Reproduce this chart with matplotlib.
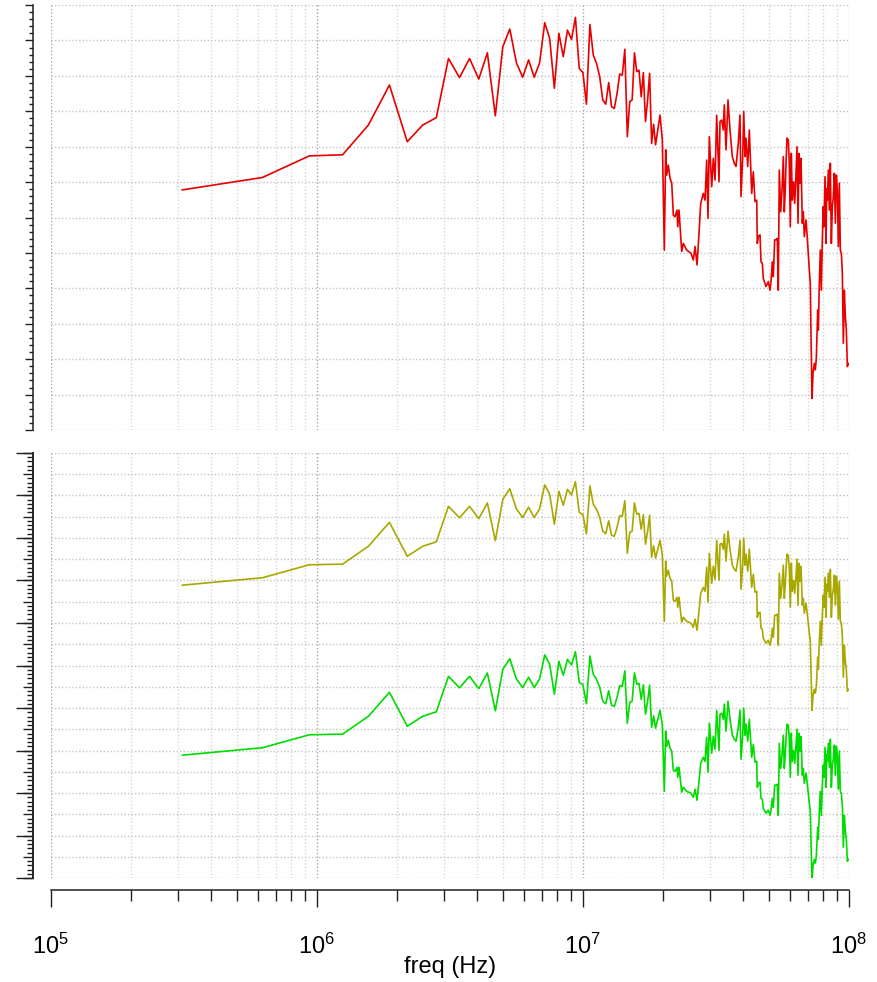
# -*- coding: utf-8 -*-
# spectrum: one trace on top, two traces below, shared log freq axis
import numpy as np
import matplotlib
matplotlib.use('Agg')
import matplotlib.pyplot as plt
from matplotlib.ticker import MultipleLocator, LogLocator, NullFormatter

plt.rcParams['font.family'] = ['Liberation Sans', 'DejaVu Sans']
plt.rcParams['mathtext.fontset'] = 'custom'
plt.rcParams['mathtext.rm'] = 'Liberation Sans'
plt.rcParams['mathtext.it'] = 'Liberation Sans:italic'

############################# DATA #############################
# low band: FFT bins, 0.3125 MHz apart
bin_step_mhz = 0.3125
bin_freq_mhz = np.arange(1, 61) * bin_step_mhz

# upper band, frequencies (MHz)
hf_freq_mhz = [
    19.49, 19.88, 20.23, 20.47, 20.65, 20.94, 21.25, 21.57, 21.87, 22.19,
    22.58, 22.72, 22.97, 23.51, 23.84, 24.55, 25.48, 26.00, 26.39, 26.85,
    27.24, 27.72, 28.35, 28.77, 29.19, 29.52, 29.86, 30.48, 30.91, 31.37,
    31.83, 32.47, 32.75, 33.24, 33.70, 34.00, 34.50, 35.10, 35.71, 36.43,
    37.07, 37.62, 38.37, 38.94, 39.28, 39.86, 40.21, 40.66, 41.02, 41.63,
    42.21,
    43.09, 43.69, 44.34, 45.00, 45.23, 45.62, 46.30, 46.70, 47.23, 47.64,
    48.35, 48.77, 49.75, 50.48, 50.92, 51.50, 51.94, 52.57, 53.17, 53.77,
    54.24, 54.71, 55.38, 56.01, 56.64, 57.13, 57.63, 57.98, 58.48, 59.14,
    59.66, 60.18, 60.70, 61.23, 61.97, 62.51, 63.06, 63.77, 64.33, 64.88,
    65.45, 66.02, 66.76, 67.35, 67.93, 68.94, 69.72, 70.33, 70.94, 71.55,
    71.99, 72.62, 73.25, 74.08, 74.72, 75.37, 76.29, 76.69, 77.36, 78.03,
    78.71, 79.39, 80.08, 80.57, 81.27, 81.98, 82.47, 82.91, 83.63, 84.36,
    85.09, 85.83, 86.58, 87.33, 88.09, 88.85, 89.62, 90.41, 91.19, 91.99,
    92.78, 93.59, 94.41, 95.22, 96.05, 96.89, 97.73, 98.58, 99.44]

red_low = [
    -52.2, -48.7, -42.6, -42.3, -33.9, -22.6, -38.6, -33.9, -31.8, -15.1,
    -20.5, -15.1, -20.9, -13.5, -31.3, -11.8, -6.8, -16.3, -20.4, -15.5,
    -20.4, -16.3, -5.0, -9.4, -23.5, -8.0, -14.6, -7.1, -9.7, -3.5,
    -17.9, -19.1, -28.0, -5.5, -14.1, -16.5, -20.2, -26.8, -28.0, -21.9,
    -28.7, -29.2, -25.0, -19.5, -19.8, -12.5, -37.2, -27.3, -26.8, -13.5,
    -18.8, -18.4, -25.9, -19.1, -32.9, -27.0, -19.3, -39.1, -33.7, -39.5]
red_hf = [
    -31.1, -38.0, -69.2, -40.9, -48.0, -45.2, -48.9, -50.3, -59.3, -59.8,
    -57.9, -62.6, -57.9, -69.6, -67.3, -69.2, -70.1, -72.0, -68.2, -73.4,
    -65.9, -56.0, -53.2, -55.1, -43.8, -60.2, -37.2, -51.3, -43.3, -49.4,
    -31.1, -49.9, -32.9, -32.5, -35.3, -28.2, -40.9, -26.8, -35.3, -42.8,
    -44.7, -45.6, -39.0, -31.1, -54.1, -42.8, -30.1, -42.8, -37.6, -45.6,
    -35.3,
    -53.2, -47.1, -55.5, -55.1, -67.3, -65.4, -64.9, -72.5, -72.9, -77.2,
    -78.6, -79.5, -78.1, -80.5, -78.1, -72.5, -76.7, -66.3, -66.3, -65.9,
    -80.5, -46.6, -58.4, -52.2, -42.8, -58.4, -51.8, -44.7, -37.6, -38.1,
    -44.7, -62.6, -41.9, -55.1, -49.9, -56.0, -49.9, -40.0, -61.6, -41.9,
    -50.3, -43.3, -61.6, -58.4, -65.4, -60.7, -65.9, -70.6, -74.8, -78.6,
    -93.6, -111.1, -104.0, -101.2, -103.0, -99.7, -86.1, -91.8, -78.6, -69.2,
    -80.5, -66.3, -56.9, -62.6, -48.5, -67.3, -51.8, -55.1, -46.6, -57.9,
    -44.7, -67.3, -56.9, -54.1, -47.5, -61.6, -48.0, -52.2, -68.2, -50.3,
    -69.2, -70.1, -75.8, -95.5, -80.5, -88.0, -91.8, -102.1, -101.2]

yellow_low = [
    -62.2, -58.7, -52.6, -52.3, -43.9, -32.6, -48.6, -43.9, -41.8, -25.1,
    -30.5, -25.1, -30.9, -23.5, -41.3, -21.8, -16.8, -26.3, -30.4, -25.5,
    -30.4, -26.3, -15.0, -19.4, -33.5, -18.0, -24.6, -17.1, -19.7, -13.5,
    -27.9, -29.1, -38.0, -15.5, -24.1, -26.5, -30.2, -36.8, -38.0, -31.9,
    -38.7, -39.2, -35.0, -29.5, -29.8, -22.5, -47.2, -37.3, -36.8, -23.5,
    -28.8, -28.4, -35.9, -29.1, -42.9, -37.0, -29.3, -49.1, -43.7, -49.5]
yellow_hf = [
    -41.1, -48.0, -79.2, -50.9, -58.0, -55.2, -58.9, -60.3, -69.3, -69.8,
    -67.9, -72.6, -67.9, -79.6, -77.3, -79.2, -80.1, -82.0, -78.2, -83.4,
    -75.9, -66.0, -63.2, -65.1, -53.8, -70.2, -47.2, -61.3, -53.3, -59.4,
    -41.1, -59.9, -42.9, -42.5, -45.3, -38.2, -50.9, -36.8, -45.3, -52.8,
    -54.7, -55.6, -49.0, -41.1, -64.1, -52.8, -40.1, -52.8, -47.6, -55.6,
    -45.3,
    -63.2, -57.1, -65.5, -65.1, -77.3, -75.4, -74.9, -82.5, -82.9, -87.2,
    -88.6, -89.5, -88.1, -90.5, -88.1, -82.5, -86.7, -76.3, -76.3, -75.9,
    -90.5, -56.6, -68.4, -62.2, -52.8, -68.4, -61.8, -54.7, -47.6, -48.1,
    -54.7, -72.6, -51.9, -65.1, -59.9, -66.0, -59.9, -50.0, -71.6, -51.9,
    -60.3, -53.3, -71.6, -68.4, -75.4, -70.7, -75.9, -80.6, -84.8, -88.6,
    -103.6, -121.1, -114.0, -111.2, -113.0, -109.7, -96.1, -101.8, -88.6, -79.2,
    -90.5, -76.3, -66.9, -72.6, -58.5, -77.3, -61.8, -65.1, -56.6, -67.9,
    -54.7, -77.3, -66.9, -64.1, -57.5, -71.6, -58.0, -62.2, -78.2, -60.3,
    -79.2, -80.1, -85.8, -105.5, -90.5, -98.0, -101.8, -112.1, -111.2]

green_low = [
    -142.2, -138.7, -132.6, -132.3, -123.9, -112.6, -128.6, -123.9, -121.8, -105.1,
    -110.5, -105.1, -110.9, -103.5, -121.3, -101.8, -96.8, -106.3, -110.4, -105.5,
    -110.4, -106.3, -95.0, -99.4, -113.5, -98.0, -104.6, -97.1, -99.7, -93.5,
    -107.9, -109.1, -118.0, -95.5, -104.1, -106.5, -110.2, -116.8, -118.0, -111.9,
    -118.7, -119.2, -115.0, -109.5, -109.8, -102.5, -127.2, -117.3, -116.8, -103.5,
    -108.8, -108.4, -115.9, -109.1, -122.9, -117.0, -109.3, -129.1, -123.7, -129.5]
green_hf = [
    -121.1, -128.0, -159.2, -130.9, -138.0, -135.2, -138.9, -140.3, -149.3, -149.8,
    -147.9, -152.6, -147.9, -159.6, -157.3, -159.2, -160.1, -162.0, -158.2, -163.4,
    -155.9, -146.0, -143.2, -145.1, -133.8, -150.2, -127.2, -141.3, -133.3, -139.4,
    -121.1, -139.9, -122.9, -122.5, -125.3, -118.2, -130.9, -116.8, -125.3, -132.8,
    -134.7, -135.6, -129.0, -121.1, -144.1, -132.8, -120.1, -132.8, -127.6, -135.6,
    -125.3,
    -143.2, -137.1, -145.5, -145.1, -157.3, -155.4, -154.9, -162.5, -162.9, -167.2,
    -168.6, -169.5, -168.1, -170.5, -168.1, -162.5, -166.7, -156.3, -156.3, -155.9,
    -170.5, -136.6, -148.4, -142.2, -132.8, -148.4, -141.8, -134.7, -127.6, -128.1,
    -134.7, -152.6, -131.9, -145.1, -139.9, -146.0, -139.9, -130.0, -151.6, -131.9,
    -140.3, -133.3, -151.6, -148.4, -155.4, -150.7, -155.9, -160.6, -164.8, -168.6,
    -183.6, -201.1, -194.0, -191.2, -193.0, -189.7, -176.1, -181.8, -168.6, -159.2,
    -170.5, -156.3, -146.9, -152.6, -138.5, -157.3, -141.8, -145.1, -136.6, -147.9,
    -134.7, -157.3, -146.9, -144.1, -137.5, -151.6, -138.0, -142.2, -158.2, -140.3,
    -159.2, -160.1, -165.8, -185.5, -170.5, -178.0, -181.8, -192.1, -191.2]

freq_hz = np.concatenate([bin_freq_mhz, hf_freq_mhz]) * 1e6
red = np.concatenate([red_low, red_hf])
yellow = np.concatenate([yellow_low, yellow_hf])
green = np.concatenate([green_low, green_hf])

############################# FIGURE #############################
W, H = 878.0, 982.0
def rect(l, t, r, b):
    return [l / W, 1 - b / H, (r - l) / W, (b - t) / H]

fig = plt.figure(figsize=(W / 100, H / 100), dpi=100)
ax1 = fig.add_axes(rect(50.7, 5, 849, 430))
ax2 = fig.add_axes(rect(50.7, 453, 849, 878))
ax2b = fig.add_axes(rect(50.7, 453, 849, 878))  # long ticks every 20 on lower panel

dots = (0, (1, 1.5))
spine_col = '#202020'

def style(ax, ymin, ybig, ylen, ysmall):
    ax.set_xscale('log')
    ax.set_xlim(1e5, 1e8)
    ax.set_ylim(ymin, 0)
    ax.set_axisbelow(True)
    ax.spines['top'].set_visible(False)
    ax.spines['right'].set_visible(False)
    ax.spines['left'].set_position(('outward', 12.6))
    ax.spines['left'].set_linewidth(1.1)
    ax.spines['left'].set_color(spine_col)
    ax.xaxis.set_major_locator(LogLocator(base=10))
    ax.xaxis.set_minor_locator(LogLocator(base=10, subs=np.arange(2, 10)))
    ax.xaxis.set_minor_formatter(NullFormatter())
    ax.yaxis.set_major_locator(MultipleLocator(ybig))
    ax.yaxis.set_minor_locator(MultipleLocator(2))
    ax.tick_params(axis='y', which='major', length=ylen, width=1.0, color=spine_col,
                   direction='out', labelleft=False)
    ax.tick_params(axis='y', which='minor', length=ysmall, width=1.0, color=spine_col,
                   direction='out')
    ax.grid(True, which='major', axis='x', color='#a8a8a8', linestyle=dots, lw=1.0)
    ax.grid(True, which='minor', axis='x', color='#d6d6d6', linestyle=dots, lw=1.0)
    ax.grid(True, which='major', axis='y', color='#c4c4c4', linestyle=dots, lw=1.0)

style(ax1, -120, 10, 5.8, 2.9)
ax1.spines['bottom'].set_visible(False)
ax1.tick_params(axis='x', which='both', bottom=False, labelbottom=False)

style(ax2, -200, 10, 7.2, 4.3)
ax2.spines['bottom'].set_position(('outward', 8.6))
ax2.spines['bottom'].set_linewidth(1.1)
ax2.spines['bottom'].set_color(spine_col)
ax2.tick_params(axis='x', which='major', length=12.2, width=1.0, color=spine_col,
                direction='out', labelsize=17, pad=19)
ax2.tick_params(axis='x', which='minor', length=7.9, width=1.0, color=spine_col,
                direction='out')
ax2.set_xlabel('freq (Hz)', fontsize=17, labelpad=-1.5)

# extra long ticks every 20 on the lower panel
ax2b.set_ylim(-200, 0)
ax2b.patch.set_visible(False)
for s in ['top', 'right', 'bottom']:
    ax2b.spines[s].set_visible(False)
ax2b.spines['left'].set_position(('outward', 12.6))
ax2b.spines['left'].set_linewidth(1.1)
ax2b.spines['left'].set_color(spine_col)
ax2b.set_xticks([])
ax2b.yaxis.set_major_locator(MultipleLocator(20))
ax2b.tick_params(axis='y', which='major', length=12.2, width=1.0, color=spine_col,
                 direction='out', labelleft=False)

############################# TRACES #############################
ax1.plot(freq_hz, red, color='#e80000', lw=1.2)
ax2.plot(freq_hz, yellow, color='#a8a800', lw=1.2)
ax2.plot(freq_hz, green, color='#00dc00', lw=1.2)

fig.savefig('out.png', dpi=100)
